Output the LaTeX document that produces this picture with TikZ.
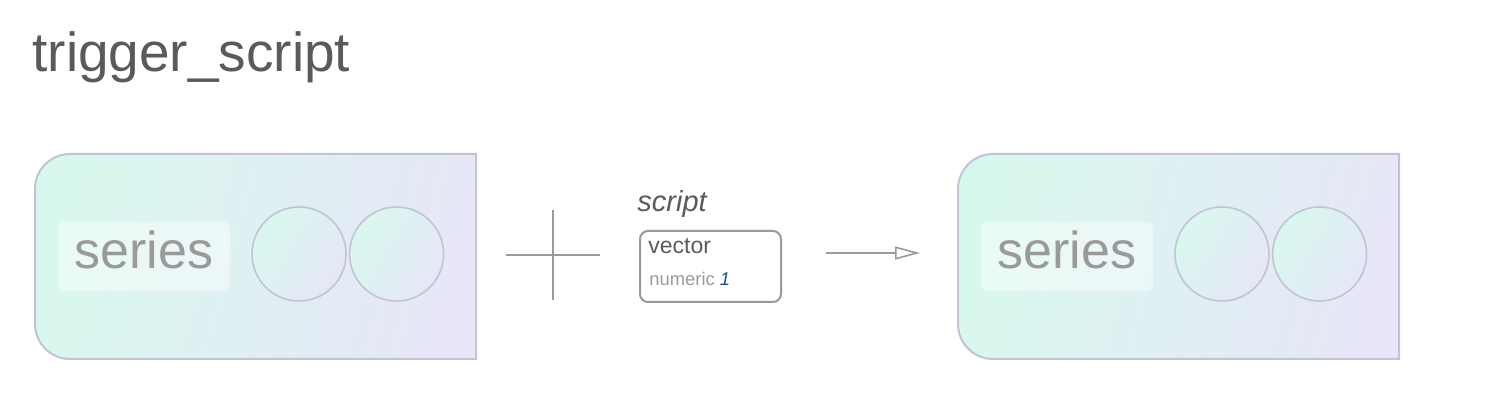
\documentclass[tikz,border=0pt]{standalone}
\usepackage{fontspec}
\setmainfont{Liberation Sans}
\usepackage{xcolor}
\usetikzlibrary{arrows.meta, positioning}

\definecolor{mint}{HTML}{D8F8EE}
\definecolor{lilac}{HTML}{E7E7F7}
\definecolor{rim}{HTML}{C2C4D5}
\definecolor{ink}{HTML}{5A5A5A}
\definecolor{pale}{HTML}{9A9A9A}
\definecolor{numblue}{HTML}{1F4E8C}

\tikzset{
    panel/.style={draw=rim, line width=1pt, left color=mint, right color=lilac, shading angle=75},
    tag/.style={fill=white, fill opacity=0.45, text opacity=1, text=pale, rounded corners=3pt,
        minimum width=86pt, minimum height=34.5pt, inner sep=0pt, text depth=7pt,
        font=\fontsize{26}{28}\selectfont},
    ball/.style={circle, draw=rim, line width=0.8pt, left color=mint, right color=lilac,
        shading angle=60, minimum size=47pt, inner sep=0pt},
    cross/.style={draw=pale, line width=1pt},
    argbox/.style={draw=pale, line width=1pt, rounded corners=4pt, minimum width=70.5pt,
        minimum height=35.5pt, inner sep=0pt},
    flow/.style={draw=pale, line width=0.8pt, -{Triangle[open, length=12.5pt, width=6.5pt]}},
    lbl/.style={inner sep=0pt, anchor=base west}
}

% one series block, #1 = name, #2 = left edge
\newcommand{\seriespanel}[2]{
    \begin{scope}[shift={(#2,0)}]
        \draw[panel]
        (441, -154) -- (35, -154) arc[start angle=90, end angle=180, radius=35]
        -- (0, -324) arc[start angle=180, end angle=270, radius=35]
        -- (441, -359) -- cycle;

        \coordinate (#1-west) at (0, -256.5);
        \node[tag] (#1-tag) at (109, -256.5) {series};
        \node[ball] (#1-a) at (264, -254) {};
        \node[ball, right=1pt of #1-a] (#1-b) {};
    \end{scope}
}

\begin{document}
\begin{tikzpicture}[x=0.5pt, y=0.5pt]
    \useasboundingbox (0, 0) rectangle (1510, -400);

    \node[lbl, text=ink, font=\fontsize{27.5}{30}\selectfont] (title) at (32, -72) {trigger\_script};

    \seriespanel{lhs}{35}
    \seriespanel{rhs}{958}

    % plus sign
    \coordinate (plus) at (553, -255);
    \draw[cross] ([xshift=-23.5pt]plus) -- ([xshift=23.5pt]plus);
    \draw[cross] ([yshift=22.5pt]plus) -- ([yshift=-22.5pt]plus);

    % argument
    \node[argbox] (vec) at (710.5, -266.5) {};
    \node[lbl, text=ink, font=\fontsize{14.5}{16}\selectfont\itshape] (vec-name) at (637, -212) {script};
    \node[lbl, text=ink, font=\fontsize{11.5}{13}\selectfont] (vec-type) at (648, -254) {vector};
    \node[lbl, text=pale, font=\fontsize{9.2}{11}\selectfont] (vec-val) at (649, -286)
        {numeric \textcolor{numblue}{\itshape 1}};

    % result
    \coordinate (tail) at (826, -253);
    \coordinate (head) at (920, -253);
    \draw[flow] (tail) -- (head);
\end{tikzpicture}
\end{document}
